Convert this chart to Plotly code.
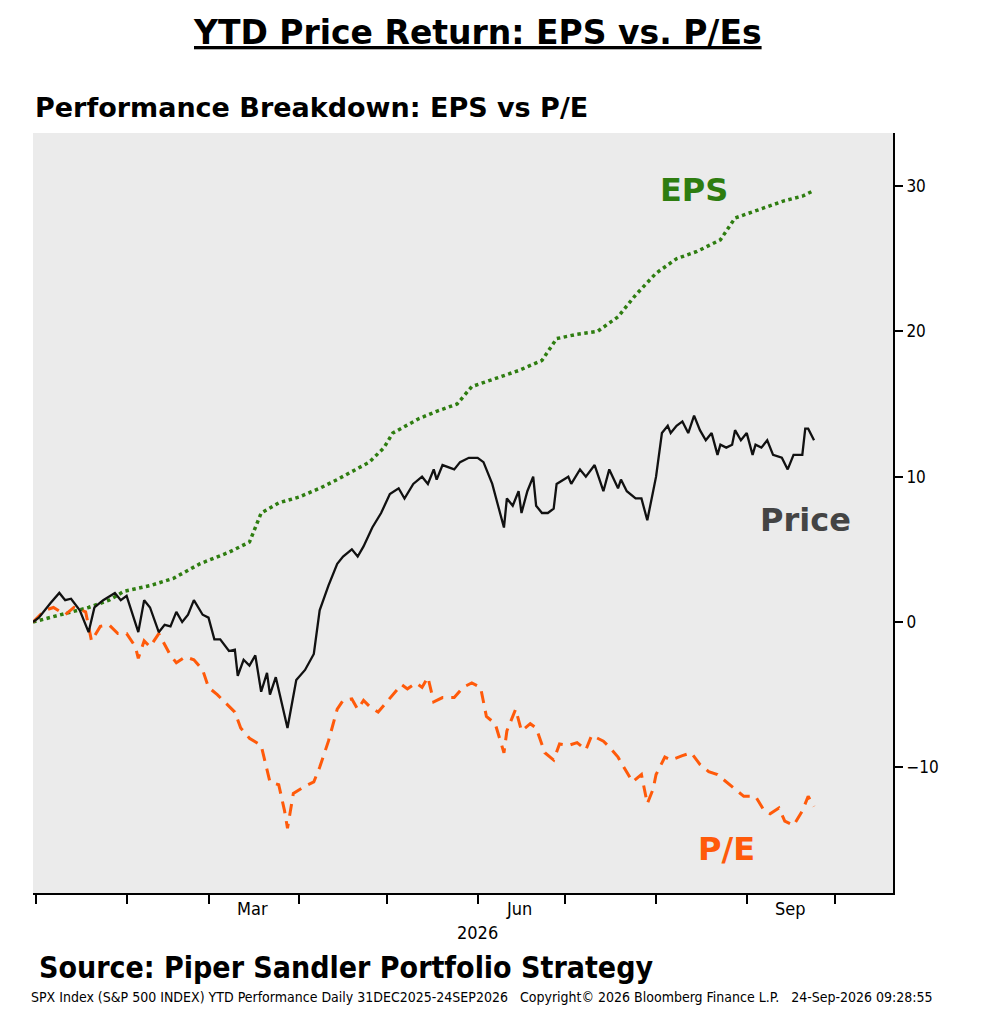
import pandas as pd
import plotly.graph_objects as go

start = pd.Timestamp("2025-12-31")

# days since 31 Dec 2025, values in % YTD
price_days = [0, 2, 6, 9, 11, 13, 16, 19, 21, 24, 28, 30, 32, 35, 36, 38, 40, 43, 45, 47, 49, 51, 53, 55, 58, 60,
              62, 64, 67, 69, 70, 72, 74, 76, 78, 80, 81, 83, 85, 87, 90, 93, 96, 98, 101, 104, 106, 109, 111, 113,
              116, 119, 122, 125, 127, 130, 133, 135, 137, 138, 140, 144, 146, 149, 152, 154, 155, 157, 159, 161,
              162, 164, 166, 167, 169, 171, 172, 174, 176, 178, 179, 183, 184, 187, 189, 192, 195, 197, 200, 201,
              203, 206, 208, 210, 212, 213, 215, 217, 218, 220, 222, 224, 226, 228, 230, 232, 234, 235, 237, 239,
              240, 242, 244, 246, 247, 249, 251, 253, 256, 258, 260, 263, 264, 265, 267]
price_vals = [0, 0.3, 1.3, 2, 1.5, 1.6, 0.8, -0.7, 1, 1.5, 2, 1.5, 1.8, 0, -0.7, 1.5, 1, -0.7, -0.2, -0.3, 0.7, 0,
              0.5, 1.5, 0.5, 0.3, -1.2, -1.2, -2, -1.9, -3.7, -2.6, -3, -2.3, -4.8, -3.5, -5, -3.8, -5.5, -7.3,
              -4, -3.3, -2.2, 0.8, 2.5, 4, 4.5, 5, 4.5, 5.2, 6.5, 7.5, 8.8, 9.2, 8.5, 9.5, 10, 9.5, 10.5, 9.8,
              10.8, 10.5, 11, 11.3, 11.3, 11, 10.5, 9.5, 8, 6.5, 8.5, 8, 9, 7.5, 9, 10, 8, 7.5, 7.5, 7.8, 9.5,
              10, 9.5, 10.5, 10, 10.8, 9, 10.5, 9.2, 9.8, 9, 8.5, 8.5, 7, 9, 10, 13, 13.5, 13, 13.5, 13.8, 13,
              14.2, 13.2, 12.5, 13, 11.5, 12.2, 12, 12.2, 13.2, 12.5, 13, 11.5, 12.2, 12, 12.5, 11.5, 11.3, 10.5,
              11.5, 11.5, 13.3, 13.3, 12.5]

eps_days = [0, 9, 19, 26, 31, 40, 48, 57, 67, 74, 78, 84, 91, 98, 104, 115, 120, 123, 132, 138, 145, 150, 159,
            166, 174, 179, 186, 193, 200, 206, 213, 220, 227, 235, 240, 247, 257, 263, 267]
eps_vals = [0, 0.5, 1, 1.5, 2.1, 2.5, 3, 4, 4.8, 5.5, 7.5, 8.2, 8.6, 9.2, 9.8, 11, 12, 13, 14, 14.5, 15, 16.2,
            16.8, 17.3, 18, 19.5, 19.8, 20, 21, 22.5, 24, 25, 25.5, 26.3, 27.8, 28.3, 29, 29.3, 29.7]

pe_days = [0, 4, 7, 11, 14, 18, 20, 23, 26, 29, 32, 35, 36, 38, 40, 43, 47, 49, 52, 55, 58, 60, 63, 66, 69, 71,
           74, 78, 81, 84, 86, 87, 89, 93, 96, 98, 101, 104, 106, 109, 111, 113, 115, 118, 121, 123, 126, 128,
           131, 133, 135, 137, 140, 144, 147, 150, 153, 155, 158, 161, 162, 165, 167, 170, 172, 175, 178, 180,
           183, 186, 189, 191, 195, 197, 200, 202, 205, 208, 210, 212, 213, 216, 218, 222, 225, 228, 231, 234,
           237, 240, 243, 247, 250, 252, 255, 257, 260, 263, 265, 267]
pe_vals = [0, 0.8, 1, 0.5, 1, 0.7, -1.3, -0.3, -0.2, -0.8, -0.8, -1.7, -2.5, -1.3, -1.7, -0.8, -2.3, -2.8, -2.4,
           -2.6, -3.3, -4.5, -5, -5.6, -6.2, -7.3, -8, -8.5, -11, -11.2, -13, -14.2, -11.8, -11.3, -11, -10,
           -8.2, -6, -5.4, -5.3, -6, -5.4, -5.8, -6.2, -5.5, -5, -4.3, -4.6, -4.2, -4.5, -3.8, -5.5, -5.2, -5.2,
           -4.5, -4.2, -4.5, -6.5, -7, -9, -7.5, -6, -7.5, -7, -7.3, -9, -9.5, -8.4, -8.5, -8.3, -8.8, -7.8,
           -8.2, -8.6, -9.3, -10, -11, -10.5, -12.5, -11.5, -10.5, -9.3, -9.5, -9.2, -9, -9.8, -10.3, -10.5,
           -11, -11.5, -12, -12, -13, -13.2, -12.8, -13.7, -14, -13, -12, -12.7]

month_starts = pd.date_range("2026-01-01", "2026-10-01", freq="MS")
month_labels = ["Mar", "Jun", "Sep"]
month_label_dates = ["2026-03-16", "2026-06-15", "2026-09-16"]
y_ticks = [-10, 0, 10, 20, 30]


def to_dates(days):
    return start + pd.to_timedelta(days, unit="D")


fig = go.Figure()
fig.add_trace(go.Scatter(x=to_dates(eps_days), y=eps_vals, mode="lines", name="EPS",
                         line=dict(color="#2e7d10", width=3.5, dash="dot")))
fig.add_trace(go.Scatter(x=to_dates(pe_days), y=pe_vals, mode="lines", name="P/E",
                         line=dict(color="#ff5a0a", width=3, dash="12px,8px")))
fig.add_trace(go.Scatter(x=to_dates(price_days), y=price_vals, mode="lines", name="Price",
                         line=dict(color="#111111", width=2.3)))

# page has an 8px body margin, so plot edges are shifted by it
H = 760
fig.update_layout(
    width=983, height=1024, showlegend=False,
    margin=dict(l=25, r=98, t=125, b=139, autoexpand=False),
    paper_bgcolor="white", plot_bgcolor="#ebebeb",
    font=dict(family="DejaVu Sans", color="black"),
)
fig.update_xaxes(range=[start, pd.Timestamp("2026-10-21")], tickvals=month_starts,
                 ticktext=[""] * len(month_starts), ticks="outside", ticklen=9, tickwidth=2,
                 tickcolor="black", showline=True, linecolor="black", linewidth=2, showgrid=False)
fig.update_yaxes(range=[-18.65, 33.65], side="right", tickvals=y_ticks, ticks="outside", ticklen=8,
                 tickwidth=1.5, tickcolor="black", showline=True, linecolor="black", linewidth=2,
                 showgrid=False, zeroline=False, tickfont=dict(size=17, family="DejaVu Sans Condensed"))

for lab, d in zip(month_labels, month_label_dates):
    fig.add_annotation(x=d, y=0, yref="paper", yshift=-28, text=lab, showarrow=False,
                       font=dict(size=18, family="DejaVu Sans Condensed"))
fig.add_annotation(x="2026-06-01", y=0, yref="paper", yshift=-52, text="2026", showarrow=False,
                   font=dict(size=18, family="DejaVu Sans Condensed"))

labels = [
    ("<b>EPS</b>", "2026-08-14", 29.7, "#2e7d10"),
    ("<b>Price</b>", "2026-09-21", 7, "#444444"),
    ("<b>P/E</b>", "2026-08-25", -15.6, "#ff5a0a"),
]
for txt, d, v, c in labels:
    fig.add_annotation(x=d, y=v, text=txt, showarrow=False, font=dict(size=32, color=c))

fig.add_annotation(x=(477 - 33) / 860, xref="paper", xanchor="center", y=(893 - 32) / H, yref="paper",
                   yanchor="middle", text="<b><u>YTD Price Return: EPS vs. P/Es</u></b>", showarrow=False,
                   font=dict(size=33))
fig.add_annotation(x=0, xref="paper", xanchor="left", y=(893 - 107) / H, yref="paper",
                   yanchor="middle", text="<b>Performance Breakdown: EPS vs P/E</b>", showarrow=False,
                   font=dict(size=27))
fig.add_annotation(x=4 / 860, xref="paper", xanchor="left", y=-(967 - 893) / H, yref="paper",
                   yanchor="middle", text="<b>Source: Piper Sandler Portfolio Strategy</b>", showarrow=False,
                   font=dict(size=30, family="DejaVu Sans Condensed"))
fig.add_annotation(x=-4 / 860, xref="paper", xanchor="left", y=-(997 - 893) / H, yref="paper",
                   yanchor="middle",
                   text="SPX Index (S&P 500 INDEX) YTD Performance Daily 31DEC2025-24SEP2026   "
                        "Copyright© 2026 Bloomberg Finance L.P.   24-Sep-2026 09:28:55",
                   showarrow=False, font=dict(size=14, family="DejaVu Sans Condensed"))

fig.write_html("out.html")
